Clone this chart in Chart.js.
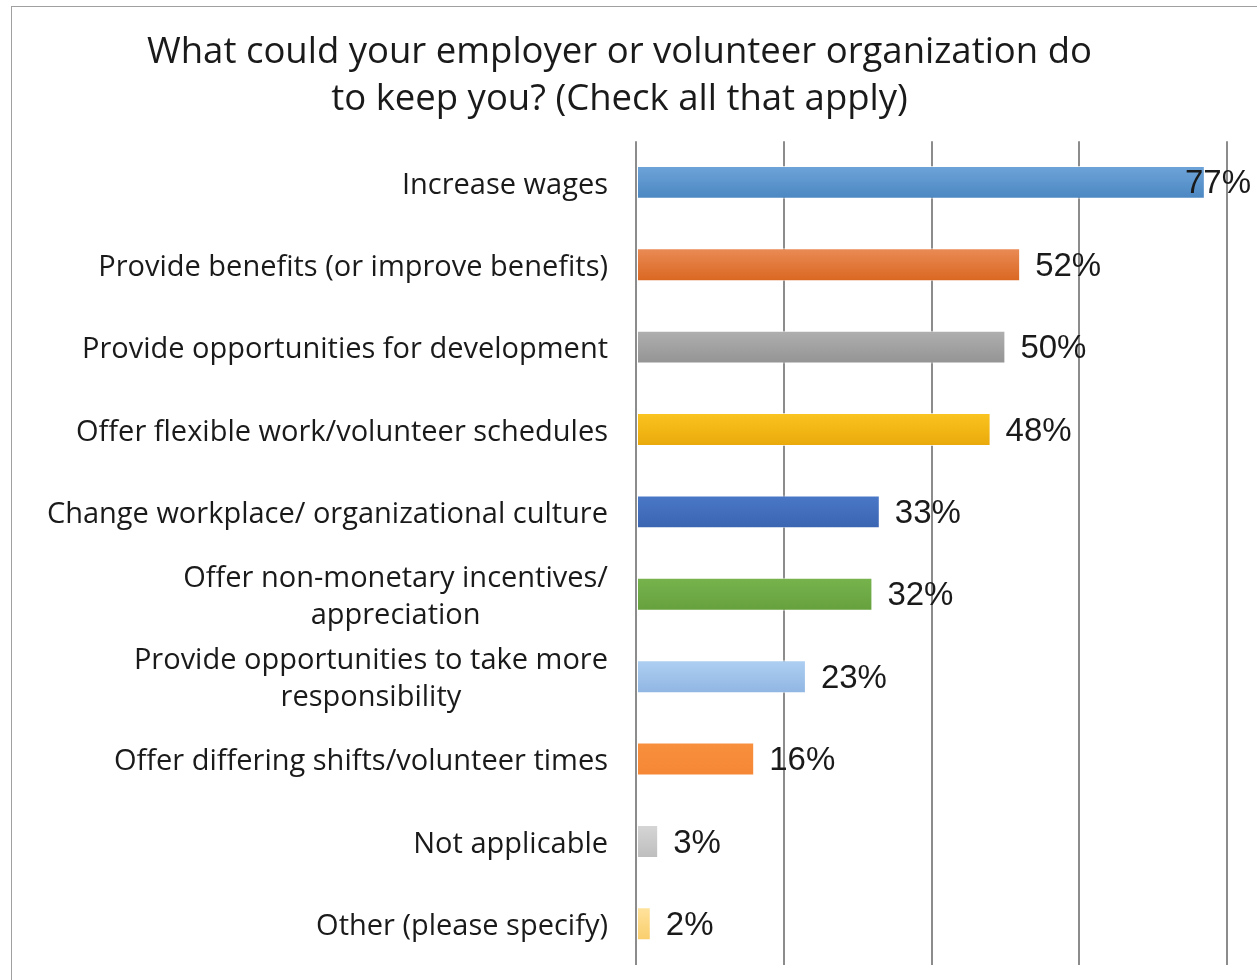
<!DOCTYPE html>
<html>
<head>
<meta charset="utf-8">
<script src="https://cdn.jsdelivr.net/npm/chart.js@4.4.1/dist/chart.umd.min.js"></script>
<style>
  html, body { margin: 0; padding: 0; background: #fff; overflow: hidden; width: 1257px; height: 980px; }
  #frame { position: absolute; left: 11px; top: 6px; width: 1260px; height: 1000px; border: 1px solid #a0a0a0; }
  #wrap { position: absolute; left: 0; top: 0; width: 1250px; height: 973px; }
</style>
</head>
<body>
<div id="frame"><div id="wrap"><canvas id="myChart"></canvas></div></div>
<script>
// data
var categories = [
    "Increase wages",
    "Provide benefits (or improve benefits)",
    "Provide opportunities for development",
    "Offer flexible work/volunteer schedules",
    "Change workplace/ organizational culture",
    ["Offer non-monetary incentives/", "appreciation"],
    ["Provide opportunities to take more", "responsibility"],
    "Offer differing shifts/volunteer times",
    "Not applicable",
    "Other (please specify)"
];
var percents = [77, 52, 50, 48, 33, 32, 23, 16, 3, 2];
var xTicks = [0, 20, 40, 60, 80];

// top / bottom colour of each bar's gradient
var barTop = ['#6fa5d9', '#ea8c57', '#b0b0b0', '#fbc520', '#4a78c8', '#77b44e', '#afd0f2', '#f8903e', '#d6d6d6', '#ffe39e'];
var barBottom = ['#4a86c1', '#d9661f', '#939393', '#e9a80a', '#3a64b0', '#65a03c', '#8fb5e2', '#f58735', '#bdbdbd', '#f9cd6a'];

var labelFont = '29px "Open Sans", "Noto Sans", sans-serif';
var valueFont = '33px "Liberation Sans", Arial, sans-serif';

// draws the category names (multi-line ones centred) and the % labels
var textPlugin = {
    id: 'textPlugin',
    afterDatasetsDraw: function (chart) {
        var c = chart.ctx;
        var y = chart.scales.y;
        var area = chart.chartArea;
        c.save();
        c.fillStyle = '#1a1a1a';
        c.textBaseline = 'middle';

        c.font = labelFont;
        c.textAlign = 'center';
        categories.forEach(function (lab, i) {
            var lines = Array.isArray(lab) ? lab : [lab];
            var w = Math.max.apply(null, lines.map(function (l) { return c.measureText(l).width; }));
            var cx = area.left - 28 - w / 2;
            var cy = y.getPixelForTick(i) + 3;
            var lh = 37;
            lines.forEach(function (l, k) {
                c.fillText(l, cx, cy + (k - (lines.length - 1) / 2) * lh);
            });
        });

        c.font = valueFont;
        c.textAlign = 'left';
        var meta = chart.getDatasetMeta(0);
        meta.data.forEach(function (bar, i) {
            var txt = percents[i] + '%';
            var w = c.measureText(txt).width;
            var x = Math.min(bar.x + 15, chart.width - 11 - w);
            c.fillText(txt, x, bar.y + 2);
        });
        c.restore();
    }
};

function barGradient(context) {
    var chart = context.chart;
    var i = context.dataIndex;
    if (!chart.chartArea || i === undefined) return barTop[i] || '#888';
    var y = chart.scales.y;
    var cy = y.getPixelForValue(i);
    var g = chart.ctx.createLinearGradient(0, cy - 17, 0, cy + 17);
    g.addColorStop(0, barTop[i]);
    g.addColorStop(1, barBottom[i]);
    return g;
}

new Chart(document.getElementById('myChart'), {
    type: 'bar',
    data: {
        labels: categories,
        datasets: [{
            data: percents,
            backgroundColor: barGradient,
            borderColor: 'rgba(255,255,255,0.7)',
            borderWidth: 1,
            borderSkipped: false,
            categoryPercentage: 0.8,
            barPercentage: 0.5
        }]
    },
    options: {
        indexAxis: 'y',
        responsive: true,
        maintainAspectRatio: false,
        animation: false,
        layout: { padding: { left: 0, right: 35, top: 0, bottom: 15 } },
        plugins: {
            legend: { display: false },
            tooltip: { enabled: false },
            title: {
                display: true,
                text: ['What could your employer or volunteer organization do', 'to keep you? (Check all that apply)'],
                color: '#1a1a1a',
                font: { family: '"Open Sans", "Noto Sans", sans-serif', size: 36.5, weight: 'normal', lineHeight: 1.29 },
                padding: { top: 22, bottom: 18 }
            }
        },
        scales: {
            x: {
                min: 0,
                max: 80,
                afterBuildTicks: function (s) { s.ticks = xTicks.map(function (v) { return { value: v }; }); },
                ticks: { display: false },
                border: { display: false },
                grid: { color: '#8c8c8c', lineWidth: 2, drawTicks: false }
            },
            y: {
                ticks: { display: false },
                grid: { display: false },
                border: { display: false },
                afterFit: function (s) { s.width = 624; }
            }
        }
    },
    plugins: [textPlugin]
});
</script>
</body>
</html>
